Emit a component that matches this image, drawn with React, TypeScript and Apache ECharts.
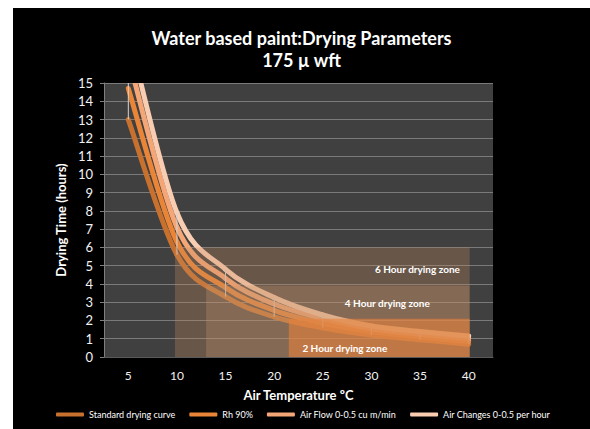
import React, { useEffect, useRef } from "react";
import * as echarts from "echarts";

const temperatures = ["5", "10", "15", "20", "25", "30", "35", "40"];
const standardCurve = [13, 5.6, 3.3, 2.2, 1.6, 1.2, 0.95, 0.7];
const rh90 = [14.7, 6.3, 3.8, 2.55, 1.85, 1.4, 1.1, 0.85];
const airFlow = [16.4, 7.1, 4.3, 2.9, 2.1, 1.55, 1.25, 1.0];
const airChanges = [17.8, 7.9, 4.8, 3.25, 2.3, 1.7, 1.4, 1.15];

const seriesNames = [
  "Standard drying curve",
  "Rh 90%",
  "Air Flow 0-0.5 cu m/min",
  "Air Changes 0-0.5 per hour",
];
const seriesColors = ["#c8712f", "#ea8537", "#f4a677", "#f9cdb2"];

const zoneNames = ["6 Hour drying zone", "4 Hour drying zone", "2 Hour drying zone"];
const zoneStart = [9.8, 13, 21.5];
const zoneEnd = [40.1, 40.1, 40.1];
const zoneTop = [6, 3.9, 2.1];
const zoneFills = [
  "rgba(200,140,95,0.3)",
  "rgba(200,150,110,0.3)",
  "rgba(230,130,60,0.6)",
];
const zoneLabelX = [39.1, 36.0, 22.9];
const zoneLabelY = [4.8, 2.95, 0.49];
const zoneLabelAlign = ["right", "right", "left"];

const yMin = 0;
const yMax = 15;
const yInterval = 1;

const FONT = "Lato, 'Open Sans', sans-serif";

// Smooth curve (Catmull-Rom style, like a spreadsheet's smoothed line) drawn
// through the points given by the axes' own scales.
function makeCurveRenderer(values: number[], color: string) {
  return (params: any, api: any) => {
    if (params.dataIndex !== 0) return null;
    const pts = values.map((v, j) => api.coord([j, v]));
    const n = pts.length;
    const children: any[] = [];
    for (let j = 0; j < n - 1; j++) {
      const p0 = pts[Math.max(j - 1, 0)];
      const p1 = pts[j];
      const p2 = pts[j + 1];
      const p3 = pts[Math.min(j + 2, n - 1)];
      children.push({
        type: "bezierCurve",
        shape: {
          x1: p1[0],
          y1: p1[1],
          cpx1: p1[0] + (p2[0] - p0[0]) / 6,
          cpy1: p1[1] + (p2[1] - p0[1]) / 6,
          cpx2: p2[0] - (p3[0] - p1[0]) / 6,
          cpy2: p2[1] - (p3[1] - p1[1]) / 6,
          x2: p2[0],
          y2: p2[1],
        },
        style: { stroke: color, lineWidth: 5, fill: null, lineCap: "round" },
      });
    }
    return { type: "group", children };
  };
}

export default function App() {
  const ref = useRef<HTMLDivElement>(null);

  useEffect(() => {
    if (!ref.current) return;
    const chart = echarts.init(ref.current, null, { renderer: "svg" });
    const allSeries = [standardCurve, rh90, airFlow, airChanges];

    const hiLo = temperatures.map((_, i) => {
      const vals = allSeries.map((s) => s[i]);
      return [i, Math.min(...vals), Math.min(Math.max(...vals), yMax)];
    });

    const option: any = {
      animation: false,
      backgroundColor: "#000000",
      textStyle: { fontFamily: FONT },
      title: {
        text: "Water based paint:Drying Parameters\n175 µ wft",
        left: "center",
        top: 14,
        textStyle: {
          color: "#ffffff",
          fontSize: 18,
          fontWeight: "bold",
          lineHeight: 22,
          fontFamily: FONT,
        },
      },
      legend: {
        data: seriesNames,
        left: 38,
        top: 397,
        icon: "roundRect",
        itemWidth: 28,
        itemHeight: 4,
        itemGap: 14,
        textStyle: { color: "#ffffff", fontSize: 9, fontFamily: FONT },
      },
      grid: {
        left: 91,
        right: 97,
        top: 75,
        bottom: 72,
        show: true,
        backgroundColor: "#404040",
        borderWidth: 0,
      },
      xAxis: [
        {
          type: "category",
          data: temperatures,
          boundaryGap: true,
          name: "Air Temperature ºC",
          nameLocation: "middle",
          nameGap: 31,
          nameTextStyle: { color: "#ffffff", fontSize: 13, fontWeight: "bold", fontFamily: FONT },
          axisLine: { show: true, lineStyle: { color: "#5a5a5a" } },
          axisTick: { show: false },
          axisLabel: { color: "#f2f2f2", fontSize: 12, margin: 12, fontFamily: FONT },
          splitLine: { show: false },
        },
        {
          type: "value",
          min: 2.5,
          max: 42.5,
          show: false,
          splitLine: { show: false },
        },
      ],
      yAxis: {
        type: "value",
        min: yMin,
        max: yMax,
        interval: yInterval,
        name: "Drying Time (hours)",
        nameLocation: "middle",
        nameRotate: 90,
        nameGap: 37,
        nameTextStyle: { color: "#ffffff", fontSize: 13, fontWeight: "bold", fontFamily: FONT },
        axisLine: { show: true, lineStyle: { color: "#7f7f7f" } },
        axisTick: { show: true, length: 4, lineStyle: { color: "#7f7f7f" } },
        axisLabel: { color: "#f2f2f2", fontSize: 13, margin: 11, fontFamily: FONT },
        splitLine: { show: true, lineStyle: { color: "#7a7a7a", width: 1 } },
      },
      series: [
        ...allSeries.map((values, k) => ({
          name: seriesNames[k],
          type: "custom",
          xAxisIndex: 0,
          clip: true,
          z: 2,
          data: values.map((v, j) => [j, v]),
          itemStyle: { color: seriesColors[k] },
          renderItem: makeCurveRenderer(values, seriesColors[k]),
        })),
        {
          name: "hilo",
          type: "custom",
          xAxisIndex: 0,
          clip: true,
          z: 3,
          data: hiLo,
          renderItem: (params: any, api: any) => {
            const p0 = api.coord([api.value(0), api.value(1)]);
            const p1 = api.coord([api.value(0), api.value(2)]);
            return {
              type: "line",
              shape: { x1: p0[0], y1: p0[1], x2: p1[0], y2: p1[1] },
              style: { stroke: "#d4d4d4", lineWidth: 1 },
            };
          },
        },
        {
          name: "zones",
          type: "custom",
          xAxisIndex: 1,
          z: 4,
          data: zoneTop.map((t, i) => [zoneStart[i], t]),
          renderItem: (params: any, api: any) => {
            const i = params.dataIndex;
            const p0 = api.coord([zoneStart[i], 0]);
            const p1 = api.coord([zoneEnd[i], zoneTop[i]]);
            const lp = api.coord([zoneLabelX[i], zoneLabelY[i]]);
            return {
              type: "group",
              children: [
                {
                  type: "rect",
                  shape: { x: p0[0], y: p1[1], width: p1[0] - p0[0], height: p0[1] - p1[1] },
                  style: { fill: zoneFills[i] },
                },
                {
                  type: "text",
                  x: lp[0],
                  y: lp[1],
                  z2: 10,
                  style: {
                    text: zoneNames[i],
                    fill: "#ffffff",
                    font: "bold 10px " + FONT,
                    align: zoneLabelAlign[i],
                    verticalAlign: "middle",
                  },
                },
              ],
            };
          },
        },
      ],
    };
    chart.setOption(option);
    return () => chart.dispose();
  }, []);

  return (
    <div
      ref={ref}
      style={{ position: "absolute", left: 13, top: 8, width: 577, height: 421, background: "#000" }}
    />
  );
}
